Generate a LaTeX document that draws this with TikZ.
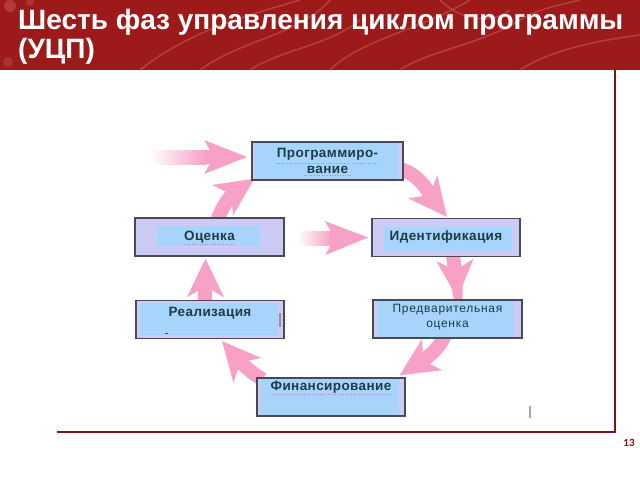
\documentclass[tikz,border=0pt]{standalone}
\usepackage{fontspec}
\setmainfont{Liberation Sans}
\newfontfamily\pagefont{Carlito}
\usetikzlibrary{arrows.meta,calc}
\definecolor{bannerred}{HTML}{9C1A1A}
\definecolor{swirl}{HTML}{C85A55}
\definecolor{framered}{HTML}{7E1414}
\definecolor{lav}{HTML}{CBCBF6}
\definecolor{lightb}{HTML}{A6D4FA}
\definecolor{boxedge}{HTML}{4A4A55}
\definecolor{arrowpink}{HTML}{F6A1C5}
\definecolor{textdark}{HTML}{1D3C48}
\definecolor{squig}{HTML}{D06080}
\begin{document}
\begin{tikzpicture}[x=1pt,y=-1pt,
  phase/.style n args={4}{draw=boxedge, line width=1.1pt, fill=lav, inner sep=0pt,
    minimum width=148pt, minimum height=38pt,
    path picture={\fill[lightb] ([xshift=#1pt,yshift=-#2pt]path picture bounding box.north west)
      rectangle ([xshift=-#3pt,yshift=#4pt]path picture bounding box.south east);}},
  phasetext/.style={font=\bfseries\fontsize{13.5}{16}\selectfont\addfontfeatures{LetterSpace=3}, text=textdark, align=center, inner sep=0pt},
  cyc/.style={color=arrowpink, line width=14pt, -{Stealth[length=38pt,width=36pt,inset=10pt]}},
  feed/.style={color=arrowpink, line width=14pt, -{Stealth[length=42pt,width=32pt,inset=8pt]}},
  squiggle/.style={squig, line width=0.6pt, dotted, opacity=0.7},
  titletext/.style={anchor=base west, text=white, font=\bfseries\fontsize{28}{32}\selectfont, inner sep=0pt},
]
\useasboundingbox (0,0) rectangle (640,480);
\fill[white] (0,0) rectangle (640,480);
% banner
\fill[bannerred] (0,0) rectangle (640,70);
\begin{scope}[swirl, line width=1.6pt, opacity=0.55]
  \draw (140,70) .. controls (190,30) and (250,15) .. (300,0);
  \draw (200,70) .. controls (240,40) and (300,35) .. (330,0);
  \draw (330,70) .. controls (360,40) and (420,30) .. (470,0);
  \draw (400,70) .. controls (430,50) and (480,45) .. (520,20) .. controls (540,8) and (560,5) .. (580,0);
  \draw (520,70) .. controls (550,50) and (600,40) .. (640,35);
  \draw (250,70) .. controls (280,50) and (330,45) .. (360,20);
  \draw (440,0) .. controls (460,20) and (490,25) .. (510,10);
\end{scope}
\fill[swirl, opacity=0.5] (10,6) circle (6);
\fill[swirl, opacity=0.4] (8,62) circle (5);
\fill[swirl, opacity=0.4] (30,2) circle (4);
\node[titletext] (title1) at (18,29) {Шесть фаз управления циклом программы};
\node[titletext] (title2) at (18,58) {(УЦП)};
% frame lines
\draw[framered, line width=2pt] (615,70) -- (615,432) -- (57,432);
\node[text=framered, font=\pagefont\bfseries\fontsize{11}{13}\selectfont, inner sep=0pt] (pagenum) at (629,443) {13};

% boxes (named first, redrawn later on top of the arrows)
\path
  node[phase={3}{1}{5}{1}, minimum width=151pt] (prog) at (327.5,161) {}
  node[phase={12}{8}{8}{6}] (ident) at (446,237.5) {}
  node[phase={22}{8}{24}{10}, minimum width=149pt] (ocen) at (209.5,237) {}
  node[phase={4}{2}{6}{4}] (real) at (210,319.5) {}
  node[phase={4}{1}{8}{1}, minimum width=149pt] (pred) at (447.5,319) {}
  node[phase={4}{1}{6}{1}] (fin) at (331,397) {};

% cycle arrows
\coordinate (a1s) at ($(prog.east)+(-8,7)$);
\coordinate (a1e) at ($(ident.north)+(1,-1)$);
\draw[cyc] (a1s) .. controls ($(a1s)+(25,4)$) and ($(a1e)+(-16,-20)$) .. (a1e);
\coordinate (a2s) at ($(ident.south)+(7,-2)$);
\coordinate (a2e) at ($(pred.north)+(10,-1)$);
\draw[cyc] (a2s) .. controls ($(a2s)+(2,15)$) and ($(a2e)+(-1,-15)$) .. (a2e);
\coordinate (a3s) at ($(pred.south)+(-3,-3)$);
\coordinate (a3e) at ($(fin.north east)+(-6,-2)$);
\draw[cyc] (a3s) .. controls ($(a3s)+(-4,12)$) and ($(a3e)+(28,-18)$) .. (a3e);
\coordinate (a4s) at ($(fin.north west)+(6,2)$);
\coordinate (a4e) at ($(real.south)+(12,2)$);
\draw[cyc] (a4s) .. controls ($(a4s)+(-10,-6)$) and ($(a4e)+(20,23)$) .. (a4e);
\coordinate (a5s) at ($(real.north)+(-5,3)$);
\coordinate (a5e) at ($(ocen.south)+(-4,2)$);
\draw[cyc] (a5s) .. controls ($(a5s)+(0,-12)$) and ($(a5e)+(0,12)$) .. (a5e);
\coordinate (a6s) at ($(ocen.north)+(8,3)$);
\coordinate (a6e) at ($(prog.south west)+(3,-2)$);
\draw[cyc] (a6s) .. controls ($(a6s)+(3,-12)$) and ($(a6e)+(-22,15)$) .. (a6e);

% feed arrows
\coordinate (inA) at (150,157);
\coordinate (inAm) at (205,157);
\shade[left color=white, right color=arrowpink] ($(inA)+(0,-7)$) rectangle ($(inAm)+(1,7)$);
\draw[feed] (inAm) -- ($(prog.west)+(-4,-4)$);
\coordinate (inB) at (298,238);
\coordinate (inBm) at (330,238);
\shade[left color=white, right color=arrowpink] ($(inB)+(0,-7)$) rectangle ($(inBm)+(1,7)$);
\draw[feed] (inBm) -- ($(ident.west)+(-3,0)$);

% redraw boxes on top of arrows
\path
  node[phase={3}{1}{5}{1}, minimum width=151pt] at (prog) {}
  node[phase={12}{8}{8}{6}] at (ident) {}
  node[phase={22}{8}{24}{10}, minimum width=149pt] at (ocen) {}
  node[phase={4}{2}{6}{4}] at (real) {}
  node[phase={4}{1}{8}{1}, minimum width=149pt] at (pred) {}
  node[phase={4}{1}{6}{1}] at (fin) {};

% texts
\node[phasetext] (progt) at ($(prog.center)+(0,0)$) {Программиро-\\вание};
\node[phasetext] (identt) at ($(ident.center)+(0,0)$) {Идентификация};
\node[phasetext] (ocent) at ($(ocen.center)+(0,0)$) {Оценка};
\node[phasetext] (realt) at ($(real.center)+(0,-6)$) {Реализация};
\node[phasetext, font=\fontsize{12}{14.5}\selectfont\addfontfeatures{LetterSpace=6}] (predt) at ($(pred.center)+(0,-2)$) {Предварительная\\оценка};
\node[phasetext] (fint) at ($(fin.center)+(0,-10)$) {Финансирование};

% spell-check squiggles
\draw[squiggle] ($(progt.north west)+(0,15)$) -- ($(progt.north east)+(0,15)$);
\draw[squiggle] ($(progt.south)+(-24,1)$) -- ($(progt.south)+(24,1)$);
\draw[squiggle] ($(ocent.south west)+(0,1.5)$) -- ($(ocent.south east)+(0,1.5)$);
\draw[squiggle] ($(fint.south west)+(0,1.5)$) -- ($(fint.south east)+(0,1.5)$);

% small artifacts
\fill[gray!70] (529,406) rectangle (531,418);
\fill[boxedge!60] (279,313) rectangle (280.5,327);
\fill[boxedge] (165,332.5) rectangle (168,333.5);
\end{tikzpicture}
\end{document}
